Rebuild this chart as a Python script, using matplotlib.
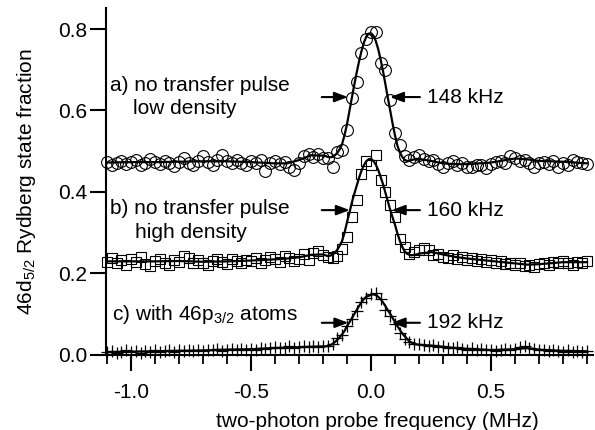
import numpy as np
import matplotlib
matplotlib.use("Agg")
import matplotlib.pyplot as plt
from matplotlib.ticker import MultipleLocator

plt.rcParams["font.family"] = ["Liberation Sans", "DejaVu Sans"]
plt.rcParams["mathtext.fontset"] = "custom"
plt.rcParams["mathtext.rm"] = "Liberation Sans"
plt.rcParams["mathtext.it"] = "Liberation Sans:italic"
plt.rcParams["axes.unicode_minus"] = False

# frequency grid of the measurement (MHz), 0.02 MHz steps
freq = np.round(np.linspace(-1.1, 0.9, 101), 2)

# a) no transfer pulse, low density (circles)
frac_a = [
    0.474, 0.466, 0.470, 0.476, 0.468, 0.474, 0.478, 0.465, 0.472, 0.481,
    0.474, 0.468, 0.476, 0.470, 0.463, 0.473, 0.484, 0.471, 0.467, 0.477,
    0.488, 0.474, 0.466, 0.479, 0.490, 0.476, 0.470, 0.478, 0.472, 0.466,
    0.475, 0.471, 0.478, 0.452, 0.470, 0.476, 0.468, 0.473, 0.462, 0.453,
    0.472, 0.489, 0.494, 0.486, 0.493, 0.484, 0.484, 0.461, 0.498, 0.502,
    0.551, 0.630, 0.670, 0.741, 0.777, 0.793, 0.793, 0.716, 0.699, 0.625,
    0.544, 0.514, 0.487, 0.478, 0.486, 0.490, 0.480, 0.476, 0.479, 0.468,
    0.462, 0.472, 0.475, 0.466, 0.470, 0.462, 0.460, 0.466, 0.465, 0.458,
    0.468, 0.474, 0.476, 0.472, 0.488, 0.484, 0.476, 0.478, 0.470, 0.460,
    0.470, 0.474, 0.468, 0.476, 0.462, 0.470, 0.466, 0.478, 0.474, 0.470,
    0.468,
]

# b) no transfer pulse, high density (squares)
frac_b = [
    0.228, 0.238, 0.224, 0.232, 0.220, 0.235, 0.227, 0.240, 0.222, 0.218,
    0.230, 0.236, 0.225, 0.221, 0.233, 0.228, 0.241, 0.238, 0.226, 0.232,
    0.224, 0.219, 0.230, 0.234, 0.227, 0.222, 0.236, 0.231, 0.225, 0.233,
    0.229, 0.237, 0.226, 0.232, 0.240, 0.235, 0.228, 0.243, 0.238, 0.230,
    0.236, 0.246, 0.232, 0.250, 0.255, 0.245, 0.240, 0.238, 0.242, 0.260,
    0.289, 0.338, 0.379, 0.445, 0.477, 0.465, 0.491, 0.430, 0.399, 0.367,
    0.338, 0.285, 0.264, 0.248, 0.252, 0.258, 0.262, 0.256, 0.244, 0.248,
    0.240, 0.238, 0.244, 0.236, 0.240, 0.232, 0.238, 0.230, 0.235, 0.228,
    0.232, 0.226, 0.230, 0.222, 0.225, 0.220, 0.224, 0.218, 0.220, 0.216,
    0.222, 0.226, 0.220, 0.228, 0.224, 0.230, 0.226, 0.220, 0.228, 0.224,
    0.230,
]

# c) with 46p3/2 atoms (crosses)
frac_c = [
    0.005, 0.009, 0.004, 0.007, 0.010, 0.006, 0.008, 0.004, 0.009, 0.007,
    0.010, 0.006, 0.009, 0.011, 0.007, 0.010, 0.008, 0.012, 0.009, 0.011,
    0.008, 0.012, 0.010, 0.013, 0.009, 0.012, 0.014, 0.011, 0.013, 0.010,
    0.014, 0.012, 0.016, 0.013, 0.015, 0.018, 0.015, 0.017, 0.020, 0.016,
    0.019, 0.021, 0.018, 0.020, 0.019, 0.021, 0.020, 0.027, 0.040, 0.048,
    0.070, 0.088, 0.108, 0.128, 0.140, 0.148, 0.152, 0.136, 0.110, 0.094,
    0.074, 0.053, 0.037, 0.030, 0.027, 0.025, 0.023, 0.021, 0.024, 0.019,
    0.020, 0.017, 0.015, 0.018, 0.014, 0.012, 0.015, 0.011, 0.013, 0.010,
    0.012, 0.009, 0.011, 0.013, 0.010, 0.014, 0.018, 0.022, 0.016, 0.013,
    0.010, 0.012, 0.008, 0.011, 0.009, 0.006, 0.010, 0.007, 0.009, 0.005,
    0.008,
]

# fitted curves: coarse on the wings, 0.01 MHz steps across the peaks
fit_x = ([-1.1, -1.0, -0.9, -0.8, -0.7, -0.6, -0.5, -0.4, -0.35, -0.3, -0.25]
         + list(np.round(np.linspace(-0.2, 0.2, 41), 2))
         + [0.25, 0.3, 0.35, 0.4, 0.5, 0.6, 0.65, 0.7, 0.8, 0.9])

fit_a = [
    0.472, 0.473, 0.473, 0.474, 0.475, 0.475, 0.473, 0.470, 0.470, 0.478, 0.490,
    0.489, 0.488, 0.486, 0.485, 0.486, 0.490, 0.496, 0.505, 0.518, 0.540,
    0.566, 0.598, 0.630, 0.662, 0.692, 0.720, 0.745, 0.766, 0.781, 0.789,
    0.790, 0.784, 0.771, 0.751, 0.726, 0.697, 0.665, 0.632, 0.600, 0.568,
    0.539, 0.514, 0.497, 0.486, 0.479, 0.476, 0.476, 0.478, 0.480, 0.481,
    0.481,
    0.476, 0.470, 0.468, 0.468, 0.472, 0.482, 0.480, 0.476, 0.474, 0.470,
]

fit_b = [
    0.229, 0.229, 0.229, 0.230, 0.228, 0.229, 0.231, 0.234, 0.236, 0.239, 0.245,
    0.246, 0.244, 0.242, 0.243, 0.246, 0.250, 0.258, 0.268, 0.280, 0.300,
    0.325, 0.348, 0.373, 0.394, 0.414, 0.434, 0.451, 0.465, 0.475, 0.480,
    0.481, 0.476, 0.467, 0.454, 0.437, 0.419, 0.398, 0.377, 0.356, 0.337,
    0.319, 0.298, 0.280, 0.265, 0.254, 0.248, 0.245, 0.244, 0.245, 0.246,
    0.248,
    0.252, 0.246, 0.240, 0.236, 0.230, 0.224, 0.221, 0.222, 0.227, 0.227,
]

fit_c = [
    0.006, 0.007, 0.008, 0.009, 0.010, 0.012, 0.013, 0.016, 0.017, 0.018, 0.019,
    0.020, 0.020, 0.021, 0.023, 0.026, 0.031, 0.036, 0.043, 0.050, 0.058,
    0.070, 0.079, 0.089, 0.099, 0.109, 0.119, 0.128, 0.136, 0.142, 0.144,
    0.147, 0.148, 0.146, 0.142, 0.136, 0.128, 0.119, 0.109, 0.100, 0.090,
    0.080, 0.070, 0.061, 0.052, 0.045, 0.039, 0.032, 0.029, 0.026, 0.025,
    0.024,
    0.022, 0.019, 0.016, 0.014, 0.011, 0.013, 0.016, 0.012, 0.009, 0.008,
]

fig = plt.figure(figsize=(5.95, 4.3), dpi=100)
ax = fig.add_axes([106 / 595, 75.5 / 430, 487 / 595, 346.5 / 430])

ax.plot(freq, frac_a, "o", ms=8.5, mfc="none", mec="black", mew=0.8, clip_on=False)
ax.plot(freq, frac_b, "s", ms=7.5, mfc="none", mec="black", mew=0.8, clip_on=False)
ax.plot(freq, frac_c, "+", ms=9, mec="black", mew=0.9, clip_on=False)
for fit in (fit_a, fit_b, fit_c):
    ax.plot(fit_x, fit, color="black", lw=1.6, clip_on=False)

ax.set_xlim(-1.104, 0.925)
ax.set_ylim(0, 0.852)
ax.spines["top"].set_visible(False)
ax.spines["right"].set_visible(False)
for side in ("left", "bottom"):
    ax.spines[side].set_linewidth(1.5)

ax.xaxis.set_major_locator(MultipleLocator(0.5))
ax.xaxis.set_minor_locator(MultipleLocator(0.1))
ax.yaxis.set_major_locator(MultipleLocator(0.2))
ax.xaxis.set_major_formatter(plt.FormatStrFormatter("%.1f"))
ax.yaxis.set_major_formatter(plt.FormatStrFormatter("%.1f"))
ax.tick_params(axis="x", which="major", length=11.5, width=1.5, labelsize=15, pad=9)
ax.tick_params(axis="x", which="minor", length=6.5, width=1.3)
ax.tick_params(axis="y", which="major", length=11.5, width=1.5, labelsize=15, pad=2)

ax.set_xlabel("two-photon probe frequency (MHz)", fontsize=15)
ax.xaxis.set_label_coords(0.558, -0.165)
ax.set_ylabel("46d$_{5/2}$ Rydberg state fraction", fontsize=15)
ax.yaxis.set_label_coords(-0.14, 0.5)

# labels for each trace
ax.text(-1.088, 0.662, "a) no transfer pulse", fontsize=15, va="center")
ax.text(-0.992, 0.606, "low density", fontsize=15, va="center")
ax.text(-1.088, 0.360, "b) no transfer pulse", fontsize=15, va="center")
ax.text(-0.985, 0.301, "high density", fontsize=15, va="center")
ax.text(-1.080, 0.0995, "c) with 46p$_{3/2}$ atoms", fontsize=15, va="center")

# FWHM markers
arrow = dict(arrowstyle="-|>,head_length=0.8,head_width=0.3", color="black",
             lw=1.5, shrinkA=0, shrinkB=0)
widths = [("148 kHz", 0.633, -0.096, 0.079),
          ("160 kHz", 0.355, -0.088, 0.086),
          ("192 kHz", 0.078, -0.094, 0.086)]
for label, yv, left_tip, right_tip in widths:
    ax.annotate("", xy=(left_tip, yv), xytext=(-0.205, yv), arrowprops=arrow)
    ax.annotate("", xy=(right_tip, yv), xytext=(0.204, yv), arrowprops=arrow)
    ax.text(0.232, yv, label, fontsize=15, va="center")

fig.savefig("out.png", dpi=100)
